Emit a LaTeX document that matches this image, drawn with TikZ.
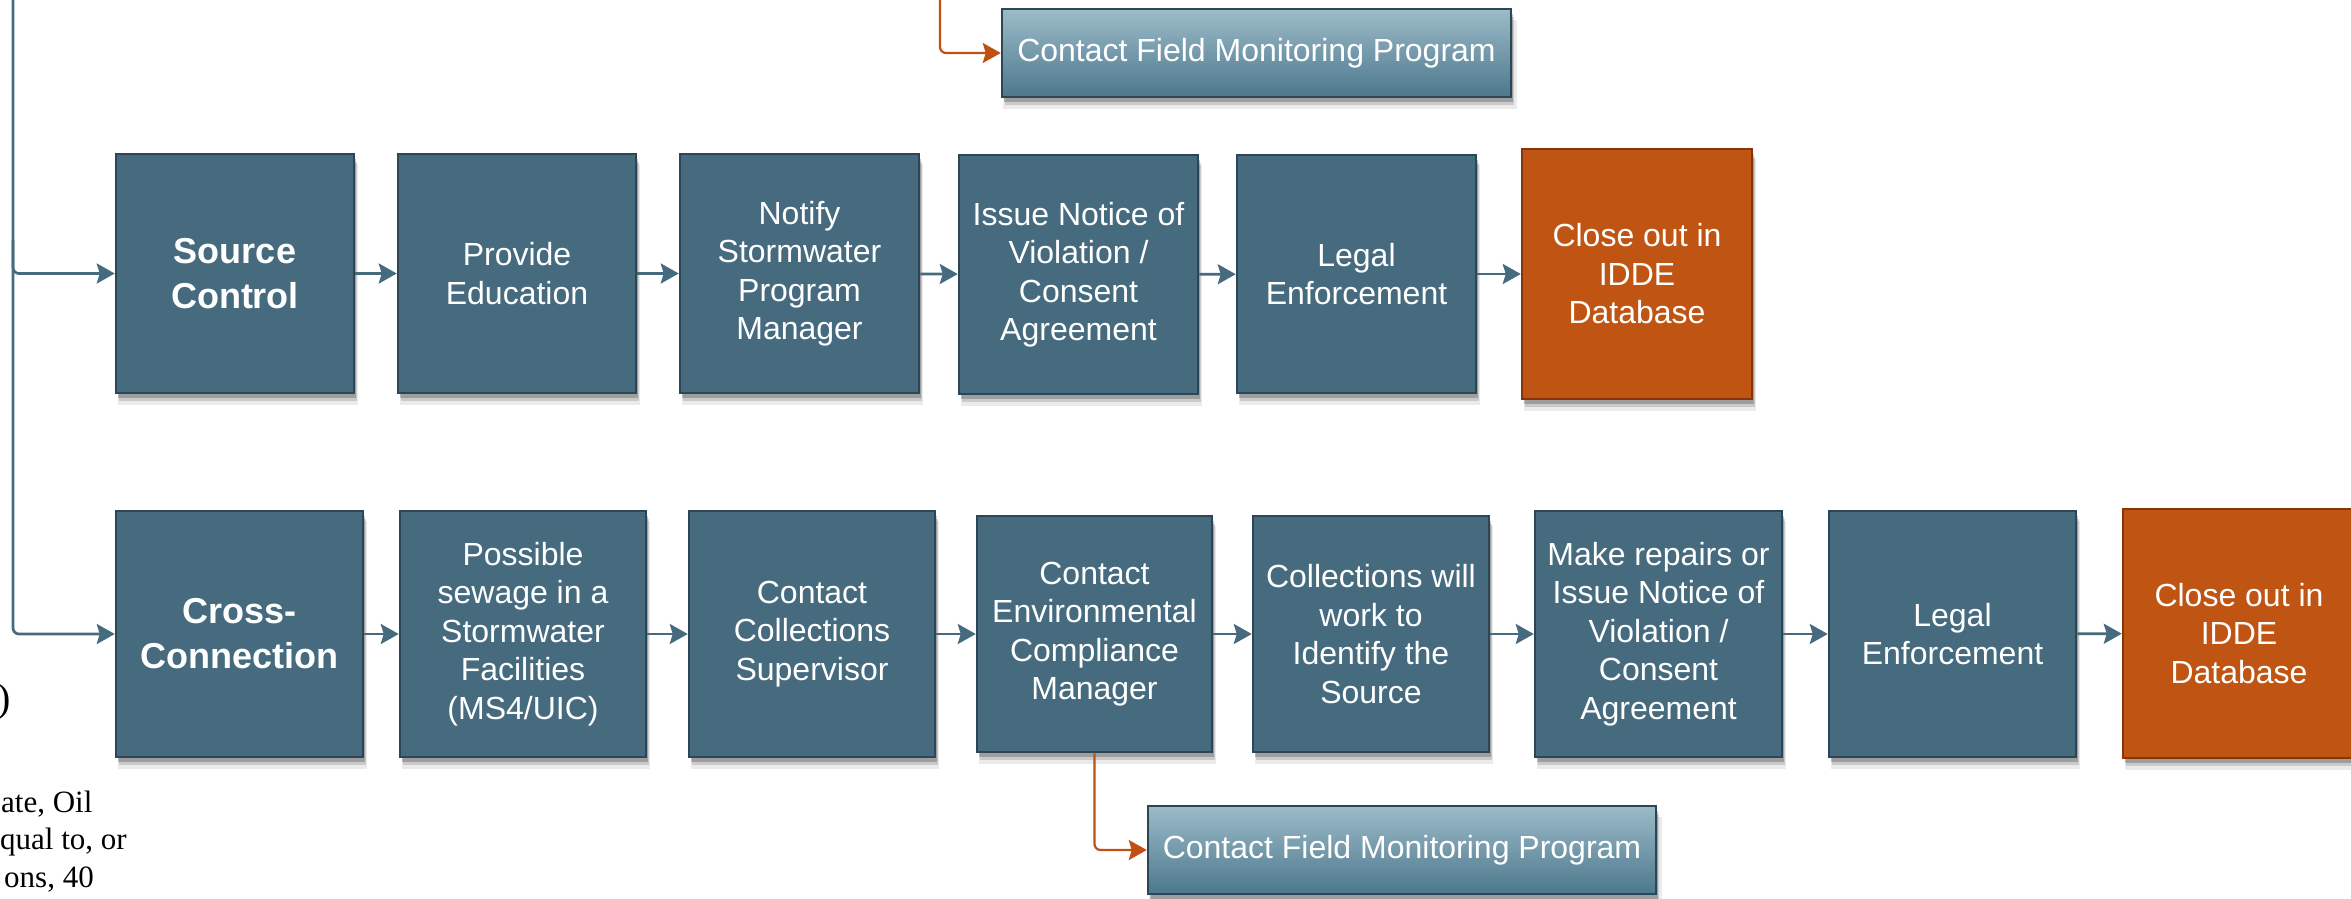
\documentclass[tikz,border=0pt]{standalone}
\usepackage{fontspec}
\setmainfont{Liberation Sans}
\newfontfamily\notefont{Liberation Serif}
\usetikzlibrary{arrows.meta,shadows}
\definecolor{boxfill}{RGB}{70,107,126}
\definecolor{boxdraw}{RGB}{45,70,85}
\definecolor{orfill}{RGB}{192,84,18}
\definecolor{ordraw}{RGB}{135,52,10}
\definecolor{linecol}{RGB}{70,107,126}
\definecolor{orline}{RGB}{192,80,18}
\definecolor{fieldtop}{RGB}{157,187,200}
\definecolor{fieldbot}{RGB}{76,120,141}
\begin{document}
\begin{tikzpicture}[x=1pt,y=-1pt,
  shadowed/.style={
    drop shadow={shadow xshift=3pt, shadow yshift=-11pt, opacity=0.08, fill=black, shadow scale=1.01},
    drop shadow={shadow xshift=3pt, shadow yshift=-8pt, opacity=0.14, fill=black},
    drop shadow={shadow xshift=2pt, shadow yshift=-5pt, opacity=0.22, fill=black}},
  box/.style={shadowed, draw=boxdraw, line width=2.5pt, fill=boxfill, text=white, align=center,
    inner sep=0pt, font=\fontsize{32}{38.5}\selectfont},
  boldbox/.style={box, font=\fontsize{36}{45}\selectfont\bfseries},
  closebox/.style={box, draw=ordraw, fill=orfill},
  fieldbox/.style={shadowed, draw=boxdraw, line width=2.5pt, top color=fieldtop, bottom color=fieldbot,
    text=white, inner sep=0pt, font=\fontsize{32}{38.5}\selectfont},
  conn/.style={draw=linecol, line width=2.7pt, -{Stealth[length=18pt,width=20pt,inset=3pt]}},
  oconn/.style={draw=orline, line width=2.2pt, rounded corners=6pt, -{Stealth[length=18pt,width=20pt,inset=3pt]}},
  note/.style={inner sep=0pt, text=black, font=\notefont\fontsize{31}{37}\selectfont}
]
\useasboundingbox (0,0) rectangle (2351,899);

% top contact field box
\node[fieldbox, minimum width=509pt, minimum height=88pt] (field1) at (1256.5,53) {Contact Field Monitoring Program};

% top row
\node[boldbox, minimum width=238pt, minimum height=239pt] (src) at (235,273.5) {Source\\Control};
\node[box, minimum width=238pt, minimum height=239pt] (prov) at (517,273.5) {Provide\\Education};
\node[box, minimum width=239pt, minimum height=239pt] (notify) at (799.5,273.5) {Notify\\Stormwater\\Program\\Manager};
\node[box, minimum width=239pt, minimum height=239pt] (issue) at (1078.5,274.5) {Issue Notice of\\Violation /\\Consent\\Agreement};
\node[box, minimum width=239pt, minimum height=238pt] (legal1) at (1356.5,274) {Legal\\Enforcement};
\node[closebox, minimum width=230pt, minimum height=250pt] (close1) at (1637,274) {Close out in\\IDDE\\Database};

% bottom row
\node[boldbox, minimum width=247pt, minimum height=246pt] (cross) at (239.5,634) {Cross-\\Connection};
\node[box, minimum width=246pt, minimum height=246pt] (poss) at (523,634) {Possible\\sewage in a\\Stormwater\\Facilities\\(MS4/UIC)};
\node[box, minimum width=246pt, minimum height=246pt] (sup) at (812,634) {Contact\\Collections\\Supervisor};
\node[box, minimum width=235pt, minimum height=236pt] (env) at (1094.5,634) {Contact\\Environmental\\Compliance\\Manager};
\node[box, minimum width=236pt, minimum height=236pt] (coll) at (1371,634) {Collections will\\work to\\Identify the\\Source};
\node[box, minimum width=247pt, minimum height=246pt] (make) at (1658.5,634) {Make repairs or\\Issue Notice of\\Violation /\\Consent\\Agreement};
\node[box, minimum width=247pt, minimum height=246pt] (legal2) at (1952.5,634) {Legal\\Enforcement};
\node[closebox, minimum width=232pt, minimum height=249pt] (close2) at (2239,633.5) {Close out in\\IDDE\\Database};

% bottom contact field box
\node[fieldbox, minimum width=508pt, minimum height=88pt] (field2) at (1402,850) {Contact Field Monitoring Program};

% left text fragments
\node[note, anchor=base east, font=\notefont\fontsize{40}{44}\selectfont] (paren) at (11,711) {)};
\node[note, anchor=base west] (note1) at (1,812) {ate, Oil};
\node[note, anchor=base west] (note2) at (0,849) {qual to, or};
\node[note, anchor=base west] (note3) at (4,887) {ons, 40};

% connectors
\coordinate (vtop) at (13,0);
\coordinate (vbranch) at (13,240);
\draw[conn, rounded corners=6pt] (vtop) |- (cross.west);
\draw[conn, rounded corners=6pt] (vbranch) |- (src.west);

\draw[conn] (src) -- (prov);
\draw[conn] (prov) -- (notify);
\draw[conn] (notify) -- (issue);
\draw[conn] (issue) -- (legal1);
\draw[conn] (legal1) -- (close1);

\draw[conn] (cross) -- (poss);
\draw[conn] (poss) -- (sup);
\draw[conn] (sup) -- (env);
\draw[conn] (env) -- (coll);
\draw[conn] (coll) -- (make);
\draw[conn] (make) -- (legal2);
\draw[conn] (legal2) -- (close2);

\coordinate (otop) at (940,0);
\draw[oconn] (otop) |- (field1.west);
\draw[oconn] (env.south) |- (field2.west);
\end{tikzpicture}
\end{document}
